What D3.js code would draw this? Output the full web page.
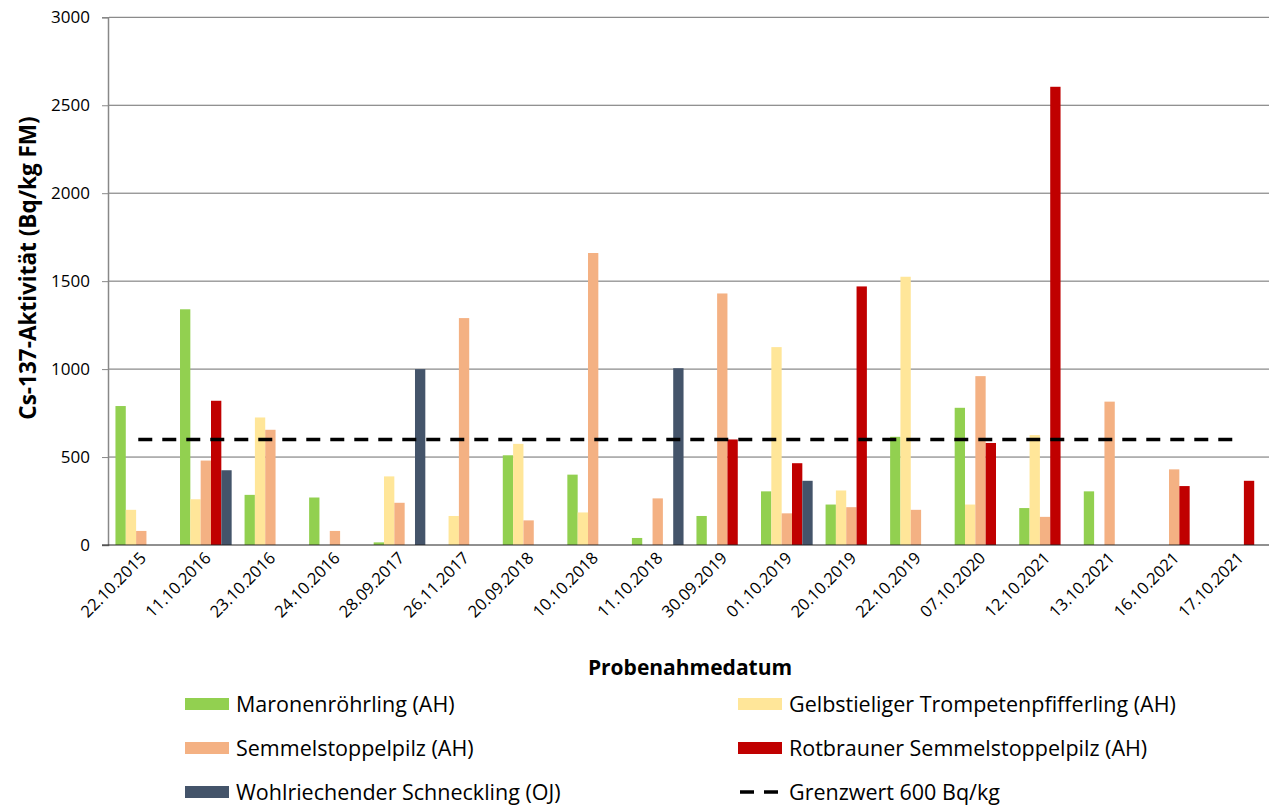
<!DOCTYPE html>
<html><head><meta charset="utf-8">
<script src="https://cdn.jsdelivr.net/npm/d3@7"></script>
<style>body{margin:0;background:#fff;} svg{display:block;font-family:"Open Sans",sans-serif;}</style>
</head><body><svg id="c" width="1269" height="805"></svg>
<script>
const categories = ["22.10.2015","11.10.2016","23.10.2016","24.10.2016","28.09.2017","26.11.2017","20.09.2018","10.10.2018","11.10.2018","30.09.2019","01.10.2019","20.10.2019","22.10.2019","07.10.2020","12.10.2021","13.10.2021","16.10.2021","17.10.2021"];
const seriesNames = ["Maronenröhrling (AH)","Gelbstieliger Trompetenpfifferling (AH)","Semmelstoppelpilz (AH)","Rotbrauner Semmelstoppelpilz (AH)","Wohlriechender Schneckling (OJ)"];
const seriesColors = ["#92D050","#FFE699","#F4B183","#C00000","#44546A"];
const maronen     = [790,1340,285,270,15,null,510,400,40,165,305,230,615,780,210,305,null,null];
const gelbstiel   = [200,260,725,null,390,165,575,185,null,null,1125,310,1525,230,625,null,null,null];
const semmel      = [80,480,655,80,240,1290,140,1660,265,1430,180,215,200,960,160,815,430,null];
const rotbraun    = [null,820,null,null,null,null,null,null,null,600,465,1470,null,580,2605,null,335,365];
const schneckling = [null,425,null,null,1000,null,null,null,1005,null,365,null,null,null,null,null,null,null];
const grenzwert = 600;
const grenzLabel = "Grenzwert 600 Bq/kg";
const yTicks = [0,500,1000,1500,2000,2500,3000];
const yTitle = "Cs-137-Aktivität (Bq/kg FM)";
const xTitle = "Probenahmedatum";

const seriesValues = [maronen,gelbstiel,semmel,rotbraun,schneckling];
const svg = d3.select("#c");
const L = 109, R = 1271, T = 17.3, B = 545;

const x0 = d3.scaleBand().domain(categories).range([L,R]).paddingInner(0.2).paddingOuter(0.1);
const x1 = d3.scaleBand().domain(d3.range(5)).range([0,x0.bandwidth()]);
const y = d3.scaleLinear().domain([0,3000]).range([B,T]);

// gridlines
svg.append("g").selectAll("line").data(yTicks.filter(d=>d>0)).join("line")
  .attr("x1",L).attr("x2",1269).attr("y1",d=>y(d)).attr("y2",d=>y(d))
  .attr("stroke","#6e6e6e").attr("stroke-width",1);

// bars
const g = svg.append("g");
seriesValues.forEach((vals,si)=>{
  g.append("g").selectAll("rect").data(categories.map((c,i)=>({c,v:vals[i]})).filter(d=>d.v!=null)).join("rect")
   .attr("x",d=>x0(d.c)+x1(si)).attr("width",x1.bandwidth())
   .attr("y",d=>y(d.v)).attr("height",d=>B-y(d.v))
   .attr("fill",seriesColors[si]);
});

// y axis
const yAxis = svg.append("g").attr("transform",`translate(${L-1},0)`)
  .call(d3.axisLeft(y).tickValues(yTicks).tickSize(6).tickPadding(12).tickFormat(d3.format("d")));
yAxis.select(".domain").attr("stroke","#888").attr("stroke-width",1.5);
yAxis.selectAll(".tick line").attr("stroke","#888");
yAxis.selectAll("text").attr("font-size",17).attr("fill","#000").attr("font-family","Open Sans");

// x axis baseline
svg.append("line").attr("x1",L-7).attr("x2",1269).attr("y1",B).attr("y2",B).attr("stroke","#222").attr("stroke-width",1.2);

// x labels
svg.append("g").selectAll("text").data(categories).join("text")
  .attr("transform",d=>`translate(${x0(d)+x0.bandwidth()/2+6},${B+14}) rotate(-45)`)
  .attr("text-anchor","end").attr("font-size",16.5).attr("fill","#000").text(d=>d);

// limit line
const first = categories[0], last = categories[categories.length-1];
svg.append("line")
  .attr("x1",x0(first)+x0.bandwidth()/2-3).attr("x2",x0(last)+x0.bandwidth()/2-6)
  .attr("y1",y(grenzwert)).attr("y2",y(grenzwert))
  .attr("stroke","#000").attr("stroke-width",3.5).attr("stroke-dasharray","14,10");

// axis titles
svg.append("text").attr("transform",`translate(36,268) rotate(-90)`)
  .attr("text-anchor","middle").attr("font-weight","bold").attr("font-size",22.5).text(yTitle);
svg.append("text").attr("x",690).attr("y",675).attr("text-anchor","middle")
  .attr("font-weight","bold").attr("font-size",21).text(xTitle);

// legend
const legendItems = seriesNames.map((n,i)=>({name:n,color:seriesColors[i],type:"rect"}))
  .concat([{name:grenzLabel,type:"line"}]);
const colX = [185,738], rowY = [704,748,792];
legendItems.forEach((d,i)=>{
  const cx = colX[i%2], cy = rowY[Math.floor(i/2)];
  if(d.type==="rect"){
    svg.append("rect").attr("x",cx).attr("y",cy-6).attr("width",44).attr("height",12).attr("fill",d.color);
  } else {
    svg.append("line").attr("x1",cx+2).attr("x2",cx+42).attr("y1",cy).attr("y2",cy)
      .attr("stroke","#000").attr("stroke-width",3.5).attr("stroke-dasharray","14,10");
  }
  svg.append("text").attr("x",cx+51).attr("y",cy+7.5).attr("font-size",21.5).attr("fill","#000").text(d.name);
});
</script></body></html>
